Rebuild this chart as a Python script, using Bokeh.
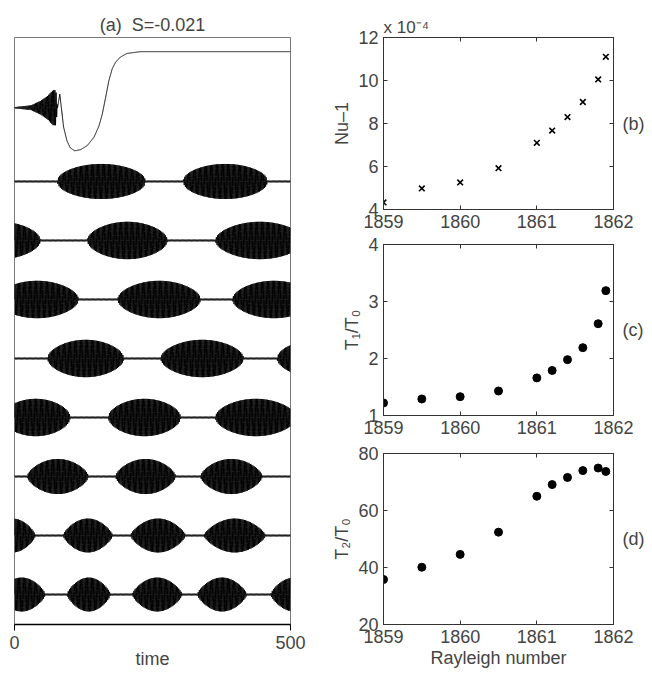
import numpy as np
from bokeh.plotting import figure
from bokeh.layouts import row, column
from bokeh.models import Range1d, FixedTicker, LinearAxis
from bokeh.embed import file_html
from bokeh.resources import INLINE

FONT = "Liberation Sans"
TXT = "18px"

# ---------------- panel (a): time series ----------------
T_END = 500
time_ticks = [0, 500]
trace_offsets = [8.25, 7, 6, 5, 4, 3, 2, 1, 0]

# top trace: growing oscillation, then a large excursion to a steady state
transient_knot_t = [0, 78, 82, 89, 95, 101, 109, 120, 132, 144, 153, 159, 165, 171,
                    177, 183, 192, 204, 228, 500]
transient_knot_y = [0, 0, 0.23, -0.33, -0.56, -0.68, -0.73, -0.71, -0.64, -0.50, -0.31,
                    -0.11, 0.17, 0.46, 0.66, 0.77, 0.86, 0.92, 0.95, 0.95]
transient_osc_t = [0, 30, 48, 60, 70, 75, 78, 500]
transient_osc_amp = [0.01, 0.04, 0.12, 0.2, 0.3, 0.3, 0.0, 0.0]

# remaining traces: bursting oscillations, (start, end) of every burst
burst_windows = [
    [(78, 237), (306, 458)],
    [(-100, 47), (132, 277), (364, 525)],
    [(-34, 116), (187, 337), (395, 545)],
    [(60, 198), (265, 415), (476, 616)],
    [(-24, 101), (170, 301), (364, 510)],
    [(23, 134), (183, 292), (337, 449)],
    [(-45, 38), (88, 178), (210, 310), (343, 455)],
    [(-30, 56), (95, 174), (213, 304), (331, 421), (464, 550)],
]
burst_amplitudes = [0.30, 0.32, 0.32, 0.32, 0.32, 0.30, 0.29, 0.29]
# exponent of the sine-shaped burst envelope (small = flat top, steep sides)
burst_shape = [0.45, 0.5, 0.5, 0.5, 0.5, 0.6, 0.7, 0.7]

CARRIER_PERIOD = 2.2
t = np.arange(0, T_END + 0.1, 0.2)
carrier = np.sin(2 * np.pi * t / CARRIER_PERIOD)

pa = figure(width=320, height=673, x_range=Range1d(0, T_END), y_range=Range1d(-0.508, 9.44),
            y_axis_location=None, output_backend="svg", toolbar_location=None,
            min_border_left=14, min_border_right=30, min_border_top=37, min_border_bottom=49)
pa.grid.visible = False
pa.outline_line_color = "#7a7a7a"
pa.outline_line_width = 1

pa.title.text = "(a)\u00a0 S=-0.021"
pa.title.align = "center"
pa.title.text_font = FONT
pa.title.text_font_size = TXT
pa.title.text_font_style = "normal"
pa.title.standoff = 6

# top trace
slow = np.interp(t, transient_knot_t, transient_knot_y)
osc = np.interp(t, transient_osc_t, transient_osc_amp) * carrier
pa.line(t, trace_offsets[0] + slow + osc, line_color="black", line_width=1)

# bursting traces, each burst fading in from and out to a faint background wiggle
for k, (windows, amp, p_exp) in enumerate(zip(burst_windows, burst_amplitudes, burst_shape)):
    env = np.full_like(t, 0.015)
    for s, e in windows:
        u = np.clip((t - s) / (e - s), 0, 1)
        env = np.maximum(env, amp * np.sin(np.pi * u) ** p_exp)
    pa.line(t, trace_offsets[k + 1] + env * carrier, line_color="black", line_width=1)

ax = pa.xaxis[0]
ax.ticker = FixedTicker(ticks=time_ticks)
ax.major_tick_in = 0
ax.major_tick_out = 6
ax.minor_tick_line_color = None
ax.axis_line_width = 1.5
ax.major_label_standoff = 5
ax.major_label_text_font = FONT
ax.major_label_text_font_size = TXT
ax.axis_label = "time"
ax.axis_label_text_font = FONT
ax.axis_label_text_font_size = TXT
ax.axis_label_text_font_style = "normal"
ax.axis_label_standoff = -3

# ---------------- panels (b)-(d): versus Rayleigh number ----------------
rayleigh = [1859, 1859.5, 1860, 1860.5, 1861, 1861.2, 1861.4, 1861.6, 1861.8, 1861.9]
nu_minus_1 = [4.33, 4.98, 5.26, 5.92, 7.10, 7.67, 8.30, 9.00, 10.05, 11.10]   # x 1e-4
t1_over_t0 = [1.22, 1.29, 1.33, 1.43, 1.66, 1.79, 1.98, 2.19, 2.61, 3.19]
t2_over_t0 = [35.8, 40.1, 44.6, 52.4, 65.0, 69.1, 71.6, 74.0, 74.9, 73.7]

ra_ticks = [1859, 1860, 1861, 1862]
nu_ticks = [4, 6, 8, 10, 12]
t1_ticks = [1, 2, 3, 4]
t2_ticks = [20, 40, 60, 80]


def box_axis(axis, ticks):
    axis.ticker = FixedTicker(ticks=ticks)
    axis.major_tick_in = 4
    axis.major_tick_out = 0
    axis.minor_tick_line_color = None
    axis.axis_line_color = "#333333"
    axis.major_tick_line_color = "#333333"


def panel(height, top, bottom, y_lo, y_hi, y_ticks, ylabel, tag, xlabel=None):
    p = figure(width=332, height=height, x_range=Range1d(1859, 1862), y_range=Range1d(y_lo, y_hi),
               output_backend="svg", toolbar_location=None,
               min_border_left=63, min_border_right=39, min_border_top=top, min_border_bottom=bottom)
    p.grid.visible = False
    p.outline_line_color = "#333333"
    box_axis(p.xaxis[0], ra_ticks)
    box_axis(p.yaxis[0], y_ticks)
    for a in (p.xaxis[0], p.yaxis[0]):
        a.major_label_text_font = FONT
        a.major_label_text_font_size = TXT
        a.major_label_standoff = 5
        a.axis_label_text_font = FONT
        a.axis_label_text_font_size = TXT
        a.axis_label_text_font_style = "normal"
    p.yaxis[0].axis_label = ylabel
    p.yaxis[0].axis_label_standoff = 3
    if xlabel:
        p.xaxis[0].axis_label = xlabel
        p.xaxis[0].axis_label_standoff = 2
    # tick marks on the top and right edges; the right one carries the panel tag
    for loc, ticks in (("above", ra_ticks), ("right", y_ticks)):
        extra = LinearAxis()
        box_axis(extra, ticks)
        extra.major_label_overrides = {v: "" for v in ticks}
        extra.major_label_text_font_size = "0px"
        extra.major_label_standoff = 0
        if loc == "right":
            extra.axis_label = tag
            extra.axis_label_orientation = "horizontal"
            extra.axis_label_standoff = 9
            extra.axis_label_text_font = FONT
            extra.axis_label_text_font_size = TXT
            extra.axis_label_text_font_style = "normal"
        p.add_layout(extra, loc)
    return p


pb = panel(235, 37, 26, 4, 12, nu_ticks, "Nu–1", "(b)")
pb.scatter(rayleigh, nu_minus_1, marker="x", size=8, line_width=1.6, line_color="black")
pb.title.text = "x 10⁻⁴"
pb.title.align = "left"
pb.title.text_font = FONT
pb.title.text_font_size = "17px"
pb.title.text_font_style = "normal"
pb.title.standoff = 2

pc = panel(206, 9, 26, 1, 4, t1_ticks, "T₁/T₀", "(c)")
pc.scatter(rayleigh, t1_over_t0, marker="circle", size=8, fill_color="black", line_color="black")

pd = panel(232, 12, 49, 20, 80, t2_ticks, "T₂/T₀", "(d)", xlabel="Rayleigh number")
pd.scatter(rayleigh, t2_over_t0, marker="circle", size=8, fill_color="black", line_color="black")

layout = row(pa, column(pb, pc, pd, spacing=0), spacing=0)
open("out.html", "w").write(file_html(layout, INLINE))
